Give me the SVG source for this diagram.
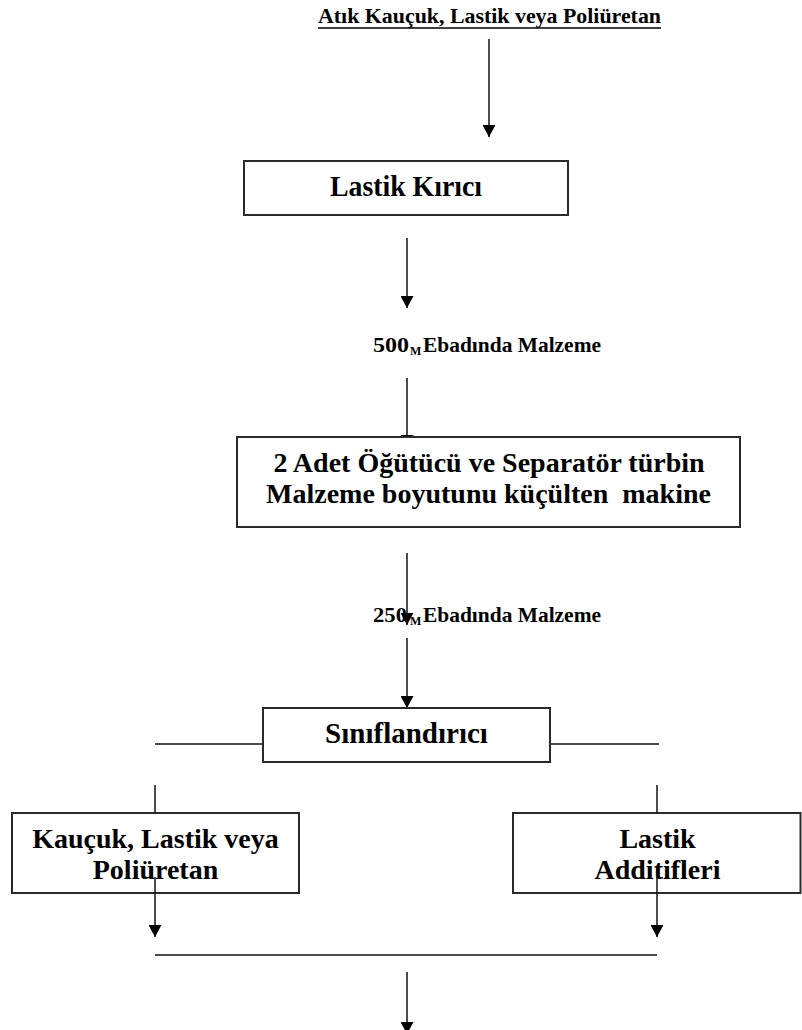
<svg xmlns="http://www.w3.org/2000/svg" width="802" height="1030" viewBox="0 0 802 1030">
<defs>
<style>
.box{fill:#fff;stroke:#2a2a2a;stroke-width:2}
.ln{fill:none;stroke:#111;stroke-width:1.5}
.arr{marker-end:url(#ah)}
.t{font-family:"Liberation Serif","Times New Roman",serif;font-weight:bold;fill:#000}
.c{text-anchor:middle}
</style>
<marker id="ah" viewBox="0 0 12 13" refX="12" refY="6.5" markerWidth="12" markerHeight="13" markerUnits="userSpaceOnUse" orient="auto">
<path d="M0,0 L12,6.5 L0,13 Z" fill="#000"/>
</marker>
</defs>
<rect width="802" height="1030" fill="#fff"/>

<g id="source">
<text class="t" x="318" y="23" font-size="21" textLength="343" lengthAdjust="spacingAndGlyphs">Atık Kauçuk, Lastik veya Poliüretan</text>
<line x1="318" y1="28" x2="661" y2="28" stroke="#000" stroke-width="1.5"/>
</g>

<g id="kaucuk">
<rect class="box" x="12" y="813" width="287" height="80"/>
<text class="t c" x="155.5" y="848" font-size="28">Kauçuk, Lastik veya</text>
<text class="t c" x="155.5" y="879" font-size="28">Poliüretan</text>
</g>

<g id="additif">
<rect class="box" x="513" y="813" width="287.5" height="80"/>
<text class="t c" x="657.5" y="848" font-size="28">Lastik</text>
<text class="t c" x="657.5" y="879" font-size="28">Additifleri</text>
</g>

<g id="connectors">
<line class="ln arr" x1="489" y1="39" x2="489" y2="137"/>
<line class="ln arr" x1="407" y1="238" x2="407" y2="308"/>
<line class="ln arr" x1="407" y1="378" x2="407" y2="447"/>
<line class="ln arr" x1="407" y1="553" x2="407" y2="625"/>
<line class="ln arr" x1="407" y1="638" x2="407" y2="708"/>
<line class="ln" x1="155" y1="744" x2="263" y2="744"/>
<line class="ln" x1="550" y1="744" x2="659" y2="744"/>
<line class="ln" x1="155" y1="785" x2="155" y2="813"/>
<line class="ln" x1="657" y1="785" x2="657" y2="813"/>
<line class="ln arr" x1="155" y1="877" x2="155" y2="937"/>
<line class="ln arr" x1="657" y1="877" x2="657" y2="937"/>
<line class="ln" x1="155" y1="955" x2="657" y2="955"/>
<line class="ln arr" x1="407" y1="972" x2="407" y2="1034"/>
</g>

<g id="kirici">
<rect class="box" x="244" y="161" width="324" height="54"/>
<text class="t c" x="406" y="196" font-size="29" textLength="152" lengthAdjust="spacingAndGlyphs">Lastik Kırıcı</text>
</g>

<g id="ogutucu">
<rect class="box" x="237" y="437" width="503" height="90"/>
<text class="t c" x="489" y="472" font-size="28">2 Adet Öğütücü ve Separatör türbin</text>
<text class="t c" x="488.5" y="503" font-size="28" style="white-space:pre" xml:space="preserve">Malzeme boyutunu küçülten  makine</text>
</g>

<g id="siniflandirici">
<rect class="box" x="263" y="708" width="287" height="54"/>
<text class="t c" x="406.5" y="743" font-size="29">Sınıflandırıcı</text>
</g>

<g id="label-500">
<text class="t" y="352" font-size="21"><tspan x="373" textLength="36" lengthAdjust="spacingAndGlyphs">500</tspan><tspan x="410" y="355" font-size="12">M</tspan><tspan x="423" y="352" textLength="178" lengthAdjust="spacingAndGlyphs">Ebadında Malzeme</tspan></text>
</g>

<g id="label-250">
<text class="t" y="622" font-size="21"><tspan x="373" textLength="34" lengthAdjust="spacingAndGlyphs">250</tspan><tspan x="410" y="625" font-size="12">M</tspan><tspan x="423" y="622" textLength="178" lengthAdjust="spacingAndGlyphs">Ebadında Malzeme</tspan></text>
</g>
</svg>
